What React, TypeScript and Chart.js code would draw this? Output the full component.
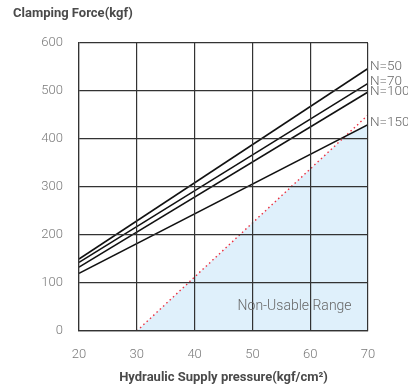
import React, { useEffect, useRef } from "react";
import { Chart, registerables } from "chart.js";

Chart.register(...registerables);

const pressureX = [20, 70];
const seriesNames = ["N=50", "N=70", "N=100", "N=150"];
const n50 = [150, 547];
const n70 = [143, 516];
const n100 = [133, 498];
const n150 = [120, 430];
const limitX = [30, 70];
const limitY = [0, 450];
const rangeX = [30, 66, 70];
const rangeY = [0, 405, 430];
const xTicks = [20, 30, 40, 50, 60, 70];
const yTicks = [0, 100, 200, 300, 400, 500, 600];

const toPts = (xs: number[], ys: number[]) => xs.map((x, i) => ({ x, y: ys[i] }));

const labelPlugin = {
  id: "labels",
  afterDraw(chart: any) {
    const { ctx, scales, chartArea } = chart;
    const xs = scales.x;
    const ys = scales.y;
    ctx.save();
    ctx.fillStyle = "#666";
    ctx.font = "300 13.5px Roboto";
    ctx.textAlign = "left";
    ctx.textBaseline = "middle";
    const series = [n50, n70, n100, n150];
    const offs = [-1.5, -2, 0, -1.5];
    series.forEach((s, i) => {
      ctx.fillText(seriesNames[i], xs.getPixelForValue(70) + 2, ys.getPixelForValue(s[s.length - 1]) + offs[i]);
    });
    ctx.textAlign = "center";
    ctx.font = "300 14px Roboto";
    ctx.fillText("Non-Usable Range", xs.getPixelForValue(57.3), ys.getPixelForValue(52));
    ctx.fillStyle = "#4a4a4a";
    ctx.font = "bold 13px Roboto";
    ctx.textAlign = "left";
    ctx.fillText("Clamping Force(kgf)", 13, 14);
    ctx.textAlign = "center";
    ctx.fillText("Hydraulic Supply pressure(kgf/cm\u00B2)", (chartArea.left + chartArea.right) / 2, 378);
    ctx.restore();
  },
};

export default function App() {
  const ref = useRef<HTMLCanvasElement>(null);
  useEffect(() => {
    document.body.style.margin = "0";
    const lineDs = (data: number[]) => ({
      data: toPts(pressureX, data),
      borderColor: "#111",
      borderWidth: 1.6,
      pointRadius: 0,
      fill: false,
    });
    const chart = new Chart(ref.current!, {
      type: "line",
      data: {
        datasets: [
          lineDs(n50),
          lineDs(n70),
          lineDs(n100),
          lineDs(n150),
          {
            data: toPts(limitX, limitY),
            borderColor: "#ec3040",
            borderWidth: 1.4,
            borderDash: [1.5, 3],
            pointRadius: 0,
            fill: false,
          },
          {
            data: toPts(rangeX, rangeY),
            borderColor: "rgba(0,0,0,0)",
            borderWidth: 0,
            backgroundColor: "#dff0fb",
            pointRadius: 0,
            fill: "origin",
          },
        ] as any,
      },
      options: {
        animation: false,
        responsive: false,
        maintainAspectRatio: false,
        layout: { padding: { left: 0, right: 40, top: 43, bottom: 0 } },
        plugins: { legend: { display: false }, tooltip: { enabled: false } },
        scales: {
          x: {
            type: "linear",
            min: 20,
            max: 70,
            afterBuildTicks: (s: any) => {
              s.ticks = xTicks.map((v) => ({ value: v }));
            },
            afterFit: (s: any) => {
              s.height = 61;
            },
            ticks: { color: "#7a7a7a", font: { family: "Roboto", size: 13, weight: "300" }, padding: 16 },
            grid: { color: "#333", lineWidth: 1.2, drawTicks: false, z: 1 },
            border: { color: "#333", width: 1.2, z: 1 },
          },
          y: {
            type: "linear",
            min: 0,
            max: 600,
            afterBuildTicks: (s: any) => {
              s.ticks = yTicks.map((v) => ({ value: v }));
            },
            afterFit: (s: any) => {
              s.width = 79;
            },
            ticks: { color: "#7a7a7a", font: { family: "Roboto", size: 13, weight: "300" }, padding: 16 },
            grid: { color: "#333", lineWidth: 1.2, drawTicks: false, z: 1 },
            border: { color: "#333", width: 1.2, z: 1 },
          },
        },
      } as any,
      plugins: [labelPlugin],
    });
    return () => chart.destroy();
  }, []);
  return (
    <div style={{ position: "fixed", left: 0, top: 0, width: 408, height: 392, background: "#fff" }}>
      <canvas ref={ref} width={408} height={392} style={{ width: 408, height: 392 }} />
    </div>
  );
}
